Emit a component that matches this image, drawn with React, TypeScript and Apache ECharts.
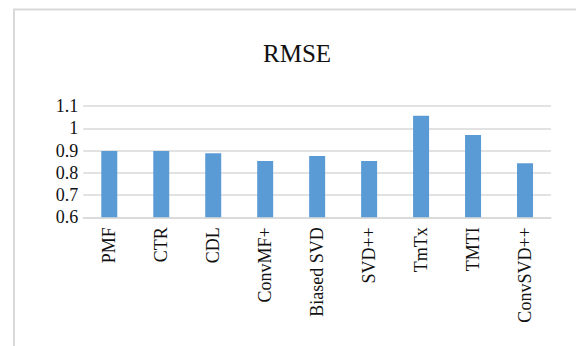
import React, { useEffect, useRef } from "react";
import * as echarts from "echarts";

const categories = ["PMF", "CTR", "CDL", "ConvMF+", "Biased SVD", "SVD++", "TmTx", "TMTI", "ConvSVD++"];
const rmse = [0.898, 0.898, 0.888, 0.853, 0.875, 0.853, 1.056, 0.97, 0.843];
const yMin = 0.6;
const yMax = 1.1;
const yStep = 0.1;

const SERIF = "Times New Roman, Liberation Serif, DejaVu Serif, serif";

export default function App() {
  const ref = useRef<HTMLDivElement>(null);

  useEffect(() => {
    if (!ref.current) return;
    const chart = echarts.init(ref.current, undefined, { renderer: "svg" });
    chart.setOption({
      animation: false,
      backgroundColor: "#ffffff",
      title: {
        text: "RMSE",
        left: 263,
        top: 41,
        padding: 0,
        textStyle: { fontFamily: SERIF, fontSize: 25, fontWeight: "normal", color: "#111" },
      },
      graphic: [
        {
          type: "rect",
          silent: true,
          shape: { x: 14, y: 9.5, width: 800, height: 600 },
          style: { fill: "none", stroke: "#d9d9d9", lineWidth: 2 },
        },
      ],
      grid: { left: 83.3, right: 25, top: 106, bottom: 128.7, containLabel: false },
      xAxis: {
        type: "category",
        data: categories,
        axisLine: { show: true, lineStyle: { color: "#d9d9d9", width: 1.5 } },
        axisTick: { show: false },
        axisLabel: {
          rotate: 90,
          interval: 0,
          margin: 10,
          fontFamily: SERIF,
          fontSize: 18,
          color: "#111",
        },
      },
      yAxis: {
        type: "value",
        min: yMin,
        max: yMax,
        interval: yStep,
        axisLine: { show: false },
        axisTick: { show: false },
        axisLabel: { margin: 5, fontFamily: SERIF, fontSize: 18, color: "#111" },
        splitLine: { lineStyle: { color: "#d9d9d9", width: 1.5 } },
      },
      series: [
        {
          type: "bar",
          data: rmse,
          barWidth: 16,
          itemStyle: { color: "#5b9bd5" },
        },
      ],
    });
    return () => chart.dispose();
  }, []);

  return (
    <div
      ref={ref}
      style={{ position: "absolute", left: 0, top: 0, width: 576, height: 346 }}
    />
  );
}
